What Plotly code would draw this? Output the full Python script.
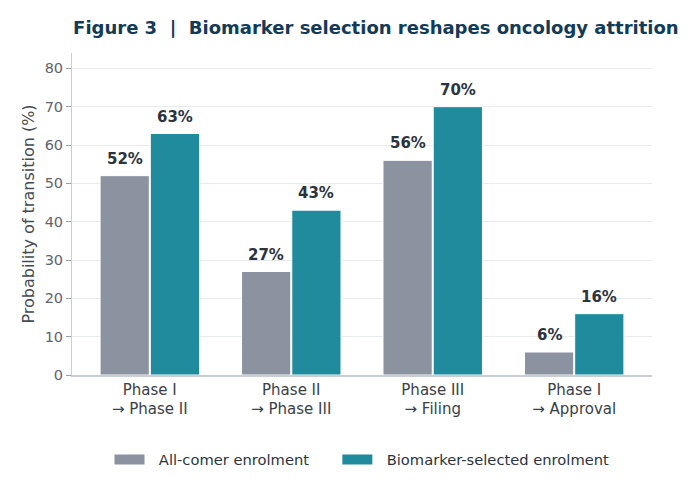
import plotly.graph_objects as go

# transitions et probabilites (%)
stages = ["Phase I<br>→ Phase II", "Phase II<br>→ Phase III", "Phase III<br>→ Filing", "Phase I<br>→ Approval"]
all_comer = [52, 27, 56, 6]
biomarker = [63, 43, 70, 16]

grey = "#8a939f"
teal = "#1f8b9d"
nb = "\u00a0"

fig = go.Figure()

fig.add_trace(go.Bar(
    x=stages, y=all_comer, name="All-comer enrolment", showlegend=False,
    marker=dict(color=grey, line=dict(color="white", width=1)),
))
fig.add_trace(go.Bar(
    x=stages, y=biomarker, name="Biomarker-selected enrolment", showlegend=False,
    marker=dict(color=teal, line=dict(color="white", width=1)),
))

# entrees de legende en rectangle (traces vides)
fig.add_trace(go.Scatter(x=[None], y=[None], mode="lines",
                         name=nb * 2 + "All-comer enrolment" + nb * 5,
                         line=dict(color=grey, width=12)))
fig.add_trace(go.Scatter(x=[None], y=[None], mode="lines",
                         name=nb * 2 + "Biomarker-selected enrolment",
                         line=dict(color=teal, width=12)))

# etiquettes au-dessus des barres
for serie, dx in [(all_comer, -25), (biomarker, 25)]:
    for cat, v in zip(stages, serie):
        fig.add_annotation(x=cat, y=v, text=f"<b>{v}%</b>", showarrow=False,
                           xshift=dx, yshift=6, yanchor="bottom",
                           font=dict(family="DejaVu Sans", size=15, color="#2b333d"))

fig.update_layout(
    width=700, height=494,
    margin=dict(l=64, r=56, t=45, b=127),
    paper_bgcolor="white", plot_bgcolor="white",
    font=dict(family="DejaVu Sans", size=14, color="#555b63"),
    title=dict(
        text="<b>Figure 3  |  Biomarker selection reshapes oncology attrition</b>",
        x=0.093, xanchor="left", y=0.961, yanchor="middle",
        font=dict(family="DejaVu Sans", size=18, color="#133a56"),
    ),
    barmode="group", bargap=0.29, bargroupgap=0.02,
    showlegend=True,
    legend=dict(
        orientation="h", x=0.5, xanchor="center", y=-0.264, yanchor="middle",
        font=dict(size=14.7, color="#2b333d"), itemwidth=30,
    ),
)

fig.update_yaxes(
    range=[0, 84], tickvals=[0, 10, 20, 30, 40, 50, 60, 70, 80],
    showgrid=True, gridcolor="#e8ebee", gridwidth=1,
    showline=True, linecolor="#c9ced4", linewidth=1,
    ticks="outside", ticklen=5, tickcolor="#9aa0a8",
    title=dict(text="Probability of transition (%)", font=dict(size=16, color="#444a52"), standoff=6),
    tickfont=dict(size=14.5, color="#5f656d"),
    zeroline=False,
)
fig.update_xaxes(
    showline=True, linecolor="#c9ced4", linewidth=1.5,
    ticks="", range=[-0.55, 3.55],
    tickfont=dict(size=15, color="#3a4048"),
)

fig.write_html("out.html")
